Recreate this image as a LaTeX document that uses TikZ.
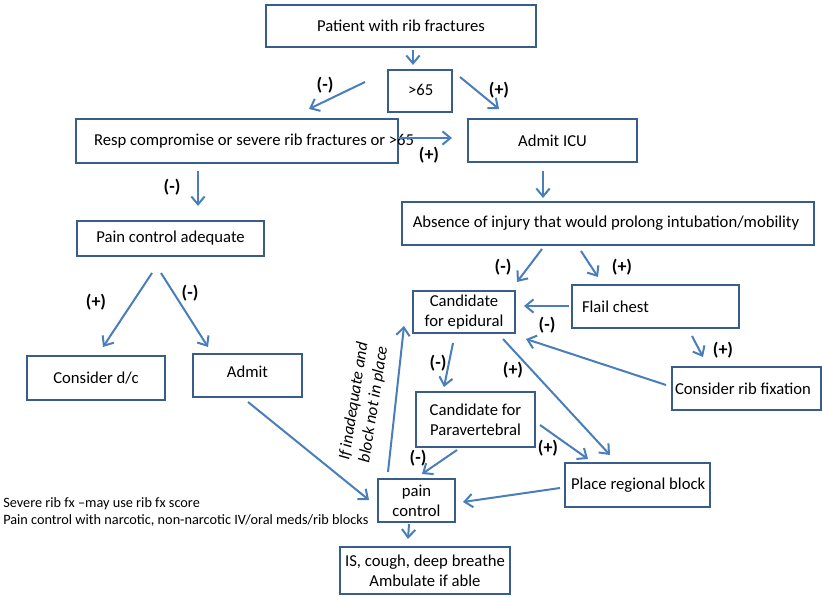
\documentclass[tikz,border=0pt]{standalone}
\usepackage{fontspec}
\setmainfont{Carlito}
\usetikzlibrary{arrows.meta}
\definecolor{boxblue}{HTML}{385D8A}
\definecolor{arrblue}{HTML}{4A7EBB}
\tikzset{
  box/.style={draw=boxblue, line width=1.5pt, inner sep=0pt, align=center,
    font=\fontsize{12.5}{15}\selectfont},
  arr/.style={draw=arrblue, line width=1.5pt, -{Straight Barb[length=6pt,width=10pt]}},
  sgn/.style={font=\fontsize{13.5}{15}\selectfont\bfseries, inner sep=0pt},
}
\begin{document}
\begin{tikzpicture}[x=0.75pt,y=-0.75pt]
\useasboundingbox (0,0) rectangle (822,598);
% boxes
\node[box, minimum width=202.5pt, minimum height=31.5pt] (pat) at (401,26) {\raisebox{-1pt}{Patient with rib fractures}};
\node[box, minimum width=48pt, minimum height=31.5pt] (gt) at (420,91) {\hspace*{1pt}\raisebox{2pt}{>65}};
\node[box, minimum width=241.5pt, minimum height=33pt] (resp) at (237,141) {\makebox[214.5pt][l]{Resp compromise or severe rib fractures or >65}};
\node[box, minimum width=126.75pt, minimum height=32.25pt] (icu) at (552.5,140.5) {Admit ICU};
\node[box, minimum width=140.25pt, minimum height=26.25pt] (pca) at (170.5,238.5) {Pain control adequate};
\node[box, minimum width=309pt, minimum height=32.25pt] (abs) at (608,223.5) {\hspace*{-3pt}Absence of injury that would prolong intubation/mobility};
\node[box, minimum width=76.5pt, minimum height=31.5pt] (epi) at (464,312) {Candidate\\for epidural};
\node[box, minimum width=125.25pt, minimum height=32.25pt] (flail) at (655.5,306.5) {\makebox[110.25pt][l]{Flail chest}};
\node[box, minimum width=103.5pt, minimum height=33pt] (dc) at (96,378) {Consider d/c};
\node[box, minimum width=81.75pt, minimum height=32.25pt] (admit) at (247.5,375.5) {\raisebox{6pt}{Admit}};
\node[box, minimum width=111.75pt, minimum height=32.25pt] (fix) at (746.5,388.5) {\makebox[107.25pt][l]{Consider rib fixation}};
\node[box, minimum width=89.25pt, minimum height=41.25pt] (para) at (475.5,419.5) {Candidate for\\Paravertebral};
\node[box, minimum width=108.75pt, minimum height=33pt] (block) at (637.5,485) {\makebox[99.75pt][l]{\raisebox{-3.5pt}{Place regional block}}};
\node[box, minimum width=57.75pt, minimum height=32.25pt] (pain) at (416.5,500.5) {pain\\control};
\node[box, minimum width=127.5pt, minimum height=35.25pt] (is) at (425,570.5) {IS, cough, deep breathe\\Ambulate if able};
% side text
\node[anchor=west, align=left, inner sep=0pt, font=\fontsize{10.7}{12.75}\selectfont] (note) at (3,511.5)
  {Severe rib fx –may use rib fx score\\Pain control with narcotic, non-narcotic IV/oral meds/rib blocks};
% arrows
\draw[arr] ([shift={(12,2)}]pat.south) -- ([shift={(-7,-4)}]gt.north);
\draw[arr] ([shift={(-22,-9)}]gt.west) -- ([shift={(72,-9)}]resp.north);
\draw[arr] ([shift={(7,-14)}]gt.east) -- ([shift={(-53.5,-9)}]icu.north);
\draw[arr] ([shift={(-1,-3)}]resp.east) -- ([shift={(-15,-2.5)}]icu.west);
\draw[arr] ([shift={(-39,7)}]resp.south) -- ([shift={(27.5,-14)}]pca.north);
\draw[arr] ([shift={(-9.5,8)}]icu.south) -- ([shift={(-65,-3)}]abs.north);
\draw[arr] ([shift={(-66,3)}]abs.south) -- ([shift={(53,-8)}]epi.north);
\draw[arr] ([shift={(-27,5)}]abs.south) -- ([shift={(-57.5,-7)}]flail.north);
\draw[arr] ([shift={(-18.5,16)}]pca.south) -- ([shift={(7,-8)}]dc.north);
\draw[arr] ([shift={(-9.5,16)}]pca.south) -- ([shift={(-39.5,-6)}]admit.north);
\draw[arr] ([shift={(-2,-0.5)}]flail.west) -- ([shift={(8,-6)}]epi.east);
\draw[arr] ([shift={(-5,-3.5)}]fix.west) -- ([shift={(10,5)}]epi.south east);
\draw[arr] ([shift={(36.5,7)}]flail.south) -- ([shift={(-43.5,-9)}]fix.north);
\draw[arr] ([shift={(-11,9)}]epi.south) -- ([shift={(-31.5,-4)}]para.north);
\draw[arr] ([shift={(39,5)}]epi.south) -- ([shift={(-27.5,-7)}]block.north);
\draw[arr] ([shift={(4,5.5)}]para.east) -- ([shift={(-49.5,-3)}]block.north);
\draw[arr] ([shift={(-18.5,2)}]para.south) -- ([shift={(5.5,-4)}]pain.north);
\draw[arr] ([shift={(0.5,4)}]admit.south) -- ([shift={(-8,-0.5)}]pain.west);
\draw[arr] ([shift={(-4,3)}]block.west) -- ([shift={(7,1.5)}]pain.east);
\draw[arr] ([shift={(-28.5,-6)}]pain.north) -- ([shift={(-8,-8)}]epi.south west);
\draw[arr] ([shift={(-7.5,1)}]pain.south) -- ([shift={(-17,-7)}]is.north);
% rotated label
\node[rotate=81, align=center, inner sep=0pt, font=\fontsize{12.5}{15}\selectfont\itshape] (inad) at (364,403)
  {If inadequate and\\block not in place};
% signs
\node[sgn] (s1) at (325,85) {(-)};
\node[sgn] (s2) at (499,90) {(+)};
\node[sgn] (s3) at (429,155) {(+)};
\node[sgn] (s4) at (172,187) {(-)};
\node[sgn] (s5) at (503,267) {(-)};
\node[sgn] (s6) at (622,267) {(+)};
\node[sgn] (s7) at (96,302) {(+)};
\node[sgn] (s8) at (190,293) {(-)};
\node[sgn] (s9) at (547,325) {(-)};
\node[sgn] (s10) at (723,350) {(+)};
\node[sgn] (s11) at (438,363) {(-)};
\node[sgn] (s12) at (513,370) {(+)};
\node[sgn] (s13) at (548,448) {(+)};
\node[sgn] (s14) at (418,458) {(-)};
\end{tikzpicture}
\end{document}
